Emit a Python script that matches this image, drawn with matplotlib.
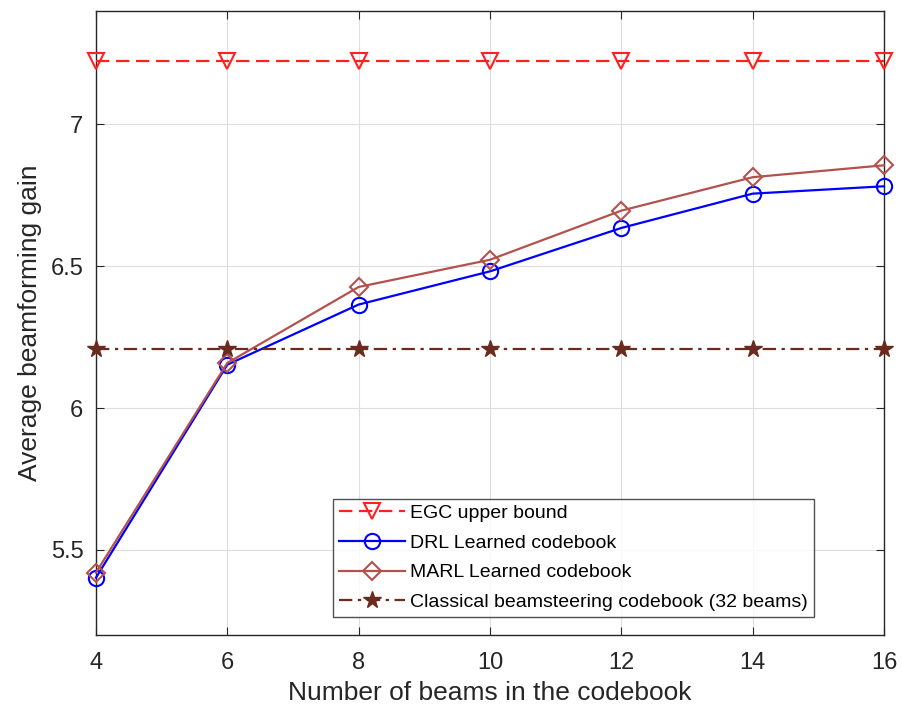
import numpy as np
import matplotlib.pyplot as plt

plt.rcParams['font.family'] = ['Liberation Sans', 'DejaVu Sans']

# number of beams in the codebook
beams = [4, 6, 8, 10, 12, 14, 16]

egc_gain = [7.223] * len(beams)
drl_gain = [5.402, 6.153, 6.365, 6.482, 6.635, 6.756, 6.782]
marl_gain = [5.420, 6.159, 6.427, 6.523, 6.696, 6.814, 6.856]
classical_gain = [6.209] * len(beams)

labels = [
    "EGC upper bound",
    "DRL Learned codebook",
    "MARL Learned codebook",
    "Classical beamsteering codebook (32 beams)",
]

fig = plt.figure(figsize=(9.02, 7.09), dpi=100)
ax = fig.add_axes([0.1064, 0.1044, 0.8736, 0.8801])

common = dict(lw=1.6, mew=1.5, clip_on=False, zorder=3)
ax.plot(beams, egc_gain, color="#ff2020", ls=(0, (6, 3)),
        marker="v", ms=12, mfc="none", label=labels[0], **common)
ax.plot(beams, drl_gain, color="#0000ff",
        marker="o", ms=11, mfc="none", label=labels[1], **common)
ax.plot(beams, marl_gain, color="#b3524c",
        marker="D", ms=9.5, mfc="none", label=labels[2], **common)
ax.plot(beams, classical_gain, color="#6b2a1e", ls=(0, (6, 2.5, 1.5, 2.5)),
        marker="*", ms=13, mfc="#6b2a1e", label=labels[3],
        lw=1.6, mew=1.0, clip_on=False, zorder=3)

ax.set_xlim(4, 16)
ax.set_ylim(5.2, 7.4)
ax.set_xticks(beams)
ax.set_yticks([5.5, 6, 6.5, 7])
ax.set_yticklabels(["5.5", "6", "6.5", "7"])
ax.grid(True, color="#dedede", lw=0.8)
ax.set_axisbelow(True)
ax.tick_params(direction="in", top=True, right=True, labelsize=17,
               colors="#262626", length=6)
ax.tick_params(axis="x", pad=12)
ax.tick_params(axis="y", pad=9)
for s in ax.spines.values():
    s.set_color("#262626")
    s.set_linewidth(1.0)

ax.set_xlabel("Number of beams in the codebook", fontsize=19, color="#262626",
              labelpad=5)
ax.set_ylabel("Average beamforming gain", fontsize=19, color="#262626",
              labelpad=6)

leg = ax.legend(loc="lower right", bbox_to_anchor=(0.911, 0.029), fontsize=14,
                frameon=True, fancybox=False, edgecolor="#262626",
                handlelength=3.4, borderpad=0.3, labelspacing=0.62,
                handletextpad=0.25, borderaxespad=0)
leg.get_frame().set_linewidth(1.0)

fig.savefig("out.png", dpi=100)
